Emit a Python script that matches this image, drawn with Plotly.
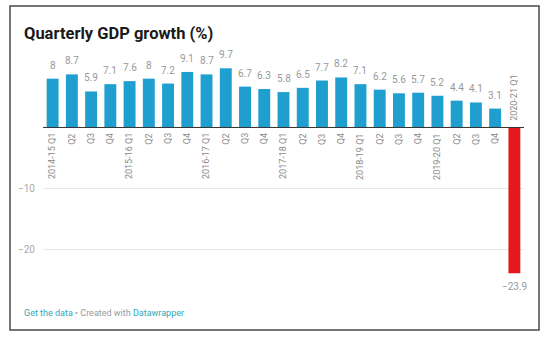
import plotly.graph_objects as go

# Fiscal years and quarter names
fiscal_years = ["2014-15", "2015-16", "2016-17", "2017-18", "2018-19", "2019-20", "2020-21"]
quarter_names = ["Q1", "Q2", "Q3", "Q4"]

# Quarterly GDP growth, %
growth = [8, 8.7, 5.9, 7.1,
          7.6, 8, 7.2, 9.1,
          8.7, 9.7, 6.7, 6.3,
          5.8, 6.5, 7.7, 8.2,
          7.1, 6.2, 5.6, 5.7,
          5.2, 4.4, 4.1, 3.1,
          -23.9]

# Unique category keys plus the short label shown under each bar
periods = []
display_labels = []
for fy in fiscal_years:
    for q in quarter_names:
        if len(periods) == len(growth):
            break
        periods.append(f"{fy} {q}")
        display_labels.append(f"{fy} {q}" if q == "Q1" else q)

BLUE = "#1f9fcf"
RED = "#e3191c"
FONT = "Roboto"

bar_colors = [BLUE if v >= 0 else RED for v in growth]

fig = go.Figure()
fig.add_trace(go.Bar(
    x=periods,
    y=growth,
    marker=dict(color=bar_colors, line=dict(width=0)),
    hoverinfo="skip",
))

annotations = []
for p, lab, v in zip(periods, display_labels, growth):
    # value label beyond the end of each bar
    annotations.append(dict(
        x=p, y=v, xref="x", yref="y",
        text=f"{v:g}".replace("-", "\u2212"), showarrow=False,
        xanchor="center",
        yanchor="bottom" if v >= 0 else "top",
        yshift=6 if v >= 0 else -6,
        font=dict(family=FONT, size=10, color="#999999"),
    ))
    # rotated category label sitting on the zero line
    annotations.append(dict(
        x=p, y=0, xref="x", yref="y",
        text=lab, textangle=-90, showarrow=False,
        xanchor="center",
        yanchor="top" if v >= 0 else "bottom",
        yshift=-4 if v >= 0 else 5,
        font=dict(family=FONT, size=9, color="#8a8a8a"),
    ))

# Title and footer
L, R, T, B = 43, 18, 50, 47
W, H = 542, 337
pw, ph = W - L - R, H - T - B


def px_x(px):
    return (px - L) / pw


def px_y(py):
    return (H - B - py) / ph


annotations.append(dict(
    x=px_x(22), y=px_y(33), xref="paper", yref="paper",
    text="<b>Quarterly GDP growth (%)</b>", showarrow=False,
    xanchor="left", yanchor="middle",
    font=dict(family=FONT, size=16.5, color="#1a1a1a"),
))
annotations.append(dict(
    x=px_x(22), y=px_y(313), xref="paper", yref="paper",
    text=("<span style='color:#2ea9bd'>Get the data</span>"
          "<span style='color:#999999'> • Created with </span>"
          "<span style='color:#2ea9bd'>Datawrapper</span>"),
    showarrow=False, xanchor="left", yanchor="middle",
    font=dict(family=FONT, size=9, color="#999999"),
))

shapes = [
    # outer frame
    dict(type="rect", xref="paper", yref="paper",
         x0=px_x(10), x1=px_x(539), y0=px_y(330), y1=px_y(6),
         line=dict(color="#4a4a4a", width=1.5), fillcolor="rgba(0,0,0,0)",
         layer="below"),
    # zero baseline
    dict(type="line", xref="paper", yref="y", x0=0, x1=1, y0=0, y1=0,
         line=dict(color="#333333", width=1), layer="above"),
]

fig.update_layout(
    width=W, height=H,
    margin=dict(l=L, r=R, t=T, b=B),
    paper_bgcolor="white", plot_bgcolor="white",
    bargap=0.38,
    showlegend=False,
    font=dict(family=FONT),
    annotations=annotations,
    shapes=shapes,
    xaxis=dict(type="category", categoryorder="array", categoryarray=periods,
               range=[-0.5, len(periods) - 0.5], autorange=False,
               showticklabels=False, showgrid=False, zeroline=False,
               showline=False, ticks=""),
    yaxis=dict(range=[-26.64, 12.7], tickvals=[-20, -10],
               showgrid=True, gridcolor="#e8e8e8", gridwidth=1,
               zeroline=False, showline=False,
               ticks="outside", ticklen=5, tickcolor="rgba(0,0,0,0)",
               tickfont=dict(family=FONT, size=10, color="#aaaaaa")),
)

fig.write_html("out.html")
